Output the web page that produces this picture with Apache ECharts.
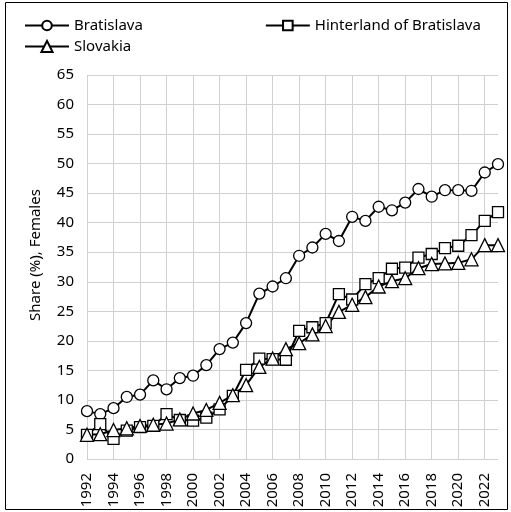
<!DOCTYPE html>
<html>
<head>
<meta charset="utf-8">
<script src="https://cdn.jsdelivr.net/npm/echarts@6/dist/echarts.min.js"></script>
<style>
  html, body { margin: 0; padding: 0; background: #fff; }
  #chart { width: 511px; height: 512px; }
</style>
</head>
<body>
<div id="chart"></div>
<script>
(function () {
    'use strict';

    const years = [];
    for (let y = 1992; y <= 2023; y++) years.push(String(y));

    const bratislava = [8.1, 7.6, 8.6, 10.5, 10.9, 13.3, 11.8, 13.7, 14.1, 15.9, 18.6, 19.7, 23.0, 28.0, 29.2, 30.6,
        34.4, 35.8, 38.1, 36.9, 41.0, 40.3, 42.7, 42.1, 43.4, 45.7, 44.4, 45.5, 45.5, 45.4, 48.5, 49.9];
    const hinterland = [4.1, 5.9, 3.4, 4.8, 5.4, 5.6, 7.6, 6.6, 6.5, 7.0, 8.4, 10.7, 15.1, 17.0, 16.9, 16.8,
        21.7, 22.3, 23.0, 27.9, 27.0, 29.6, 30.6, 32.2, 32.4, 34.1, 34.7, 35.7, 36.1, 37.9, 40.3, 41.8];
    const slovakia = [4.1, 4.2, 4.9, 5.2, 5.6, 5.8, 6.0, 6.7, 7.7, 8.3, 9.5, 10.8, 12.5, 15.6, 17.0, 18.6,
        19.6, 21.1, 22.5, 24.9, 26.1, 27.4, 29.2, 30.1, 30.6, 32.3, 33.0, 33.1, 33.2, 33.8, 36.2, 36.2];

    const font = 'Noto Sans';

    function lineSeries (name, data, symbol, size) {
        return {
            name,
            type: 'line',
            data,
            symbol,
            symbolSize: size,
            showAllSymbol: true,
            lineStyle: { color: '#000', width: 2 },
            itemStyle: { color: '#fff', borderColor: '#000', borderWidth: 1.3 },
            emphasis: { disabled: true },
            animation: false
        };
    }

    const legendText = { color: '#000', fontFamily: font, fontSize: 15 };

    const chart = echarts.init(document.getElementById('chart'), null, { renderer: 'canvas' });
    chart.setOption({
        backgroundColor: '#fff',
        animation: false,
        graphic: [{
            type: 'rect',
            shape: { x: 5.5, y: 2.5, width: 502, height: 507 },
            style: { fill: 'none', stroke: '#000', lineWidth: 1 }
        }],
        legend: [{
            data: ['Bratislava', 'Hinterland of Bratislava'],
            left: 19, top: 13,
            itemWidth: 44, itemHeight: 12, itemGap: 122,
            textStyle: legendText
        }, {
            data: ['Slovakia'],
            left: 19, top: 34,
            itemWidth: 44, itemHeight: 14,
            textStyle: legendText
        }],
        grid: { left: 87, right: 13, top: 75, bottom: 53 },
        xAxis: {
            type: 'category',
            data: years,
            boundaryGap: false,
            axisLine: { show: false },
            axisTick: { show: false },
            axisLabel: {
                interval: 1, rotate: 90, margin: 14,
                color: '#000', fontFamily: font, fontSize: 15
            },
            splitLine: { show: true, interval: 1, lineStyle: { color: '#d0d0d0', width: 1 } }
        },
        yAxis: {
            type: 'value',
            min: 0, max: 65, interval: 5,
            name: 'Share (%), Females',
            nameLocation: 'middle',
            nameGap: 44,
            nameTextStyle: { color: '#000', fontFamily: font, fontSize: 15, padding: [0, 0, 0, 24] },
            axisLine: { show: false },
            axisTick: { show: false },
            axisLabel: { margin: 13, color: '#000', fontFamily: font, fontSize: 15 },
            splitLine: { lineStyle: { color: '#d0d0d0', width: 1 } }
        },
        series: [
            lineSeries('Bratislava', bratislava, 'circle', 11),
            lineSeries('Hinterland of Bratislava', hinterland, 'rect', 11),
            lineSeries('Slovakia', slovakia, 'triangle', 13)
        ]
    });
}());
</script>
</body>
</html>
